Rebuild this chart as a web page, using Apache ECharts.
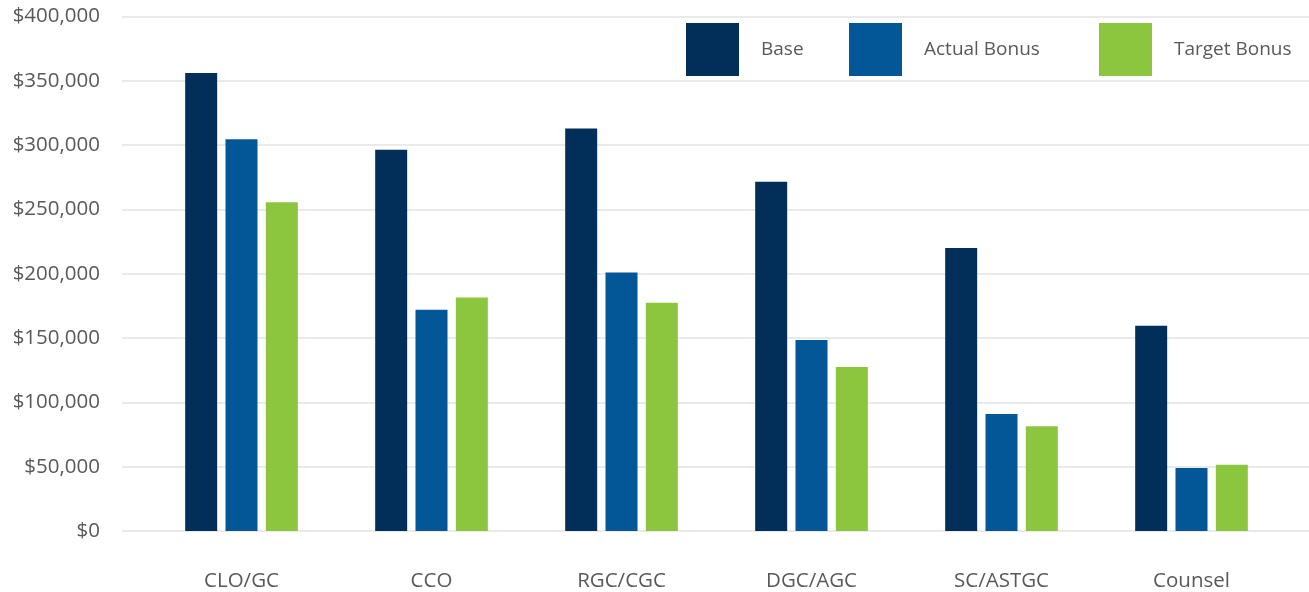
<!DOCTYPE html>
<html><head><meta charset="utf-8">
<script src="https://cdn.jsdelivr.net/npm/echarts@6/dist/echarts.min.js"></script>
<style>html,body{margin:0;padding:0;background:#fff}#c{width:1309px;height:592px}</style>
</head><body><div id="c"></div>
<script>
const categories = ['CLO/GC', 'CCO', 'RGC/CGC', 'DGC/AGC', 'SC/ASTGC', 'Counsel'];
const baseValues = [356000, 296500, 313000, 271500, 220000, 159500];
const actualBonus = [304500, 172000, 201000, 148500, 91000, 49000];
const targetBonus = [255500, 181500, 177500, 127500, 81500, 51500];
const yTicks = { min: 0, max: 400000, interval: 50000 };

const FONT = 'Open Sans';
const GRAY = '#595959';
const colors = ['#022f59', '#045796', '#8cc63f'];
const names = ['Base', 'Actual Bonus', 'Target Bonus'];
const legendLeft = [681, 844, 1094];

const chart = echarts.init(document.getElementById('c'));
chart.setOption({
  animation: false,
  grid: [
    { left: 122, right: 0, top: 16.5, bottom: 61 },
    { left: 146.5, width: 1140, top: 16.5, bottom: 61 }
  ],
  legend: names.map((n, i) => ({
    data: [n], left: legendLeft[i], top: 18, itemWidth: 53, itemHeight: 53,
    icon: 'rect', selectedMode: false,
    textStyle: { color: GRAY, fontFamily: FONT, fontSize: 19, padding: [0, 0, 0, 17] }
  })),
  xAxis: [
    { gridIndex: 0, type: 'category', data: categories, show: false },
    { gridIndex: 1, type: 'category', data: categories,
      axisLine: { show: false }, axisTick: { show: false },
      axisLabel: { color: GRAY, fontFamily: FONT, fontSize: 20.5, margin: 40 } }
  ],
  yAxis: [
    { gridIndex: 0, type: 'value', min: yTicks.min, max: yTicks.max, interval: yTicks.interval,
      axisLine: { show: false }, axisTick: { show: false },
      splitLine: { lineStyle: { color: '#e3e3e3', width: 1.5 } },
      axisLabel: { color: GRAY, fontFamily: FONT, fontSize: 20.5, margin: 22,
        formatter: v => '$' + v.toLocaleString('en-US') } },
    { gridIndex: 1, type: 'value', min: yTicks.min, max: yTicks.max, interval: yTicks.interval, show: false,
      splitLine: { show: false } }
  ],
  series: [baseValues, actualBonus, targetBonus].map((d, i) => ({
    name: names[i], type: 'bar', xAxisIndex: 1, yAxisIndex: 1, data: d,
    barWidth: 32, barGap: '26%', itemStyle: { color: colors[i] }
  }))
});
</script></body></html>
